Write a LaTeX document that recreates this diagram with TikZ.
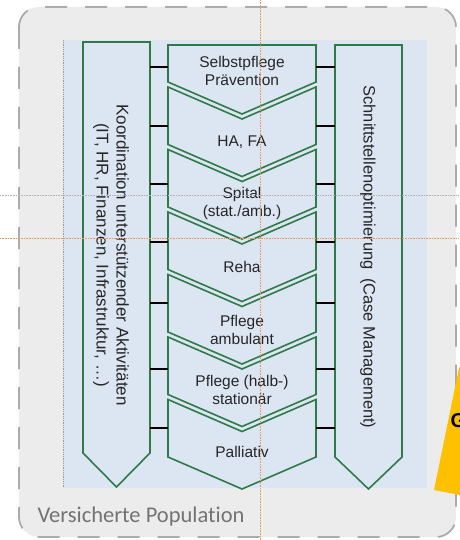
\documentclass[tikz,border=0pt]{standalone}
\usepackage{fontspec}
\setmainfont{Liberation Sans}
\newfontfamily\popfont[Ligatures=NoCommon]{Carlito}
\definecolor{kgreen}{RGB}{47,122,72}
\definecolor{kblue}{RGB}{220,230,243}
\definecolor{kgray}{RGB}{236,236,236}
\definecolor{kyellow}{RGB}{255,192,0}
\definecolor{kguide}{RGB}{238,150,100}
\begin{document}
\begin{tikzpicture}[x=1pt, y=-1pt, font=\fontsize{15.5}{18}\selectfont, line
			join=miter, >=stealth,
			frame/.style={draw=kgreen, line width=1.6pt, fill=kblue},
			conn/.style={draw=black, line width=1.4pt},
			guide/.style={densely dotted, line width=0.6pt},
			label/.style={align=center, text=black!85}]
			\useasboundingbox (0,0) rectangle (459,540);
			% background
			\draw[draw=gray!65, line width=1.8pt, dash pattern=on 22pt off 18pt,
			fill=kgray, rounded corners=20pt] (19,7) rectangle (456,537);
			\fill[kblue] (63,40) rectangle (427,488);
			\draw[gray!80, densely dotted, line width=0.8pt] (63,40) -- (63,488);
			\fill[kyellow] (459,368) -- (434,490) -- (470,497) -- (470,360) -- cycle;
			\node[anchor=west, font=\bfseries\fontsize{20}{20}\selectfont] (gtxt) at (447,421) {G};
			\path (150,0) coordinate (kR)
			(168,0) coordinate (cL)
			(316,0) coordinate (cR)
			(335,0) coordinate (sL)
			;
			% side arrows
			\draw[frame] (83,42) -- (150,42) -- (150,453) -- (116.5,487) -- (83,453) -- cycle;
			\draw[frame] (335,45) -- (402,45) -- (402,457) -- (368.5,489) -- (335,457) -- cycle;
			% chevrons
			\def\d{32}
			\draw[frame] (168,45) -- (316,45) -- (316,82) -- (242,82+\d) -- (168,82) -- cycle;
			\foreach \t/\b in {87/144.5, 149.5/207, 212/269.5, 274.5/332, 337/394.5, 399.5/457}
			\draw[frame] (168,\t) -- (242,\t+\d) -- (316,\t) -- (316,\b) -- (242,\b+\d)
			-- (168,\b) -- cycle;
			\foreach \n/\y/\txt in {s1/71/{Selbstpflege\\Prävention}, s2/142/{HA, FA},
				s3/203/{Spital\\(stat./amb.)}, s4/267/{Reha}, s5/330/{Pflege\\ambulant},
				s6/390/{Pflege (halb-)\\stationär}, s7/452/{Palliativ}}
			\node[label] (\n) at (242,\y) {\txt};
			% connectors
			\foreach \y in {67,126,184,242,303,369,428}
			{\draw[conn] (kR |- 0,\y) -- (cL |- 0,\y);
				\draw[conn] (cR |- 0,\y) -- (sL |- 0,\y);}
			\node[label, rotate=-90, font=\fontsize{17}{20}\selectfont] (koord) at (111,255)
			{Koordination unterstützender Aktivitäten\\(IT, HR, Finanzen, Infrastruktur, …)};
			\node[label, rotate=-90, font=\fontsize{16.5}{20}\selectfont] (schnitt) at (368,257)
			{Schnittstellenoptimierung\enspace(Case Management)};
			\node[anchor=base west, text=black!55, font=\popfont\fontsize{22.5}{24}\selectfont]
			(pop) at (34,522) {Versicherte Population};
			% guides
			\draw[guide, kguide] (260,0) -- (260,540);
			\draw[guide, kguide] (0,238) -- (459,238);
			\draw[guide, gray!60] (0,195) -- (459,195);
		\end{tikzpicture}
\end{document}
